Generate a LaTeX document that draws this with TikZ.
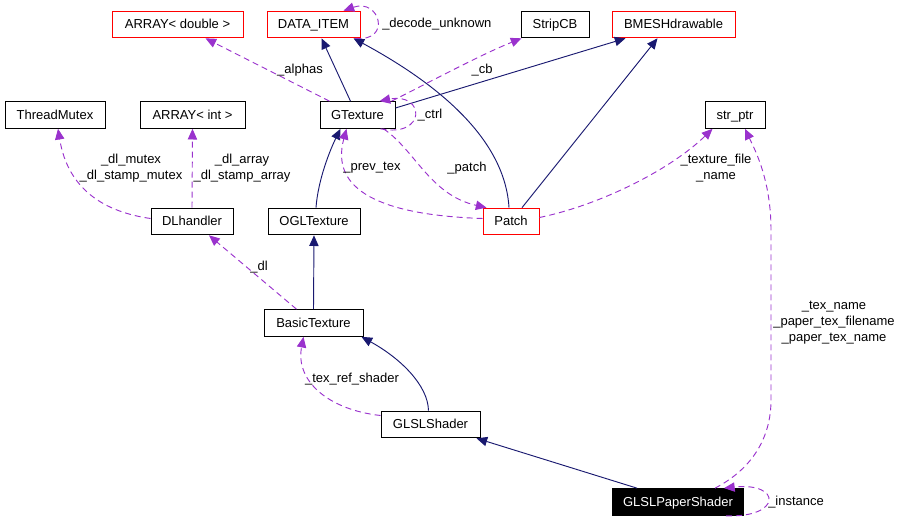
\documentclass[tikz,border=0pt]{standalone}
\usepackage{fontspec}
\setmainfont{Liberation Sans}
\usetikzlibrary{arrows.meta,calc}
\definecolor{edgeblue}{HTML}{191970}
\definecolor{edgepurple}{HTML}{9A32CD}
\begin{document}
\begin{tikzpicture}[x=0.75pt,y=-0.75pt,
  cls/.style={draw=black, line width=0.75pt, inner sep=0pt, minimum height=20pt,
    text height=8.25pt, text depth=1.5pt,
    font=\fontsize{9.75}{11}\selectfont, text=black},
  redcls/.style={cls, draw=red},
  inh/.style={draw=edgeblue, line width=0.7pt,
    -{Triangle[length=8pt,width=7pt,fill=edgeblue]}},
  use/.style={draw=edgepurple, line width=0.7pt, dash pattern=on 4.5pt off 3pt,
    -{Triangle[length=8pt,width=7pt,fill=edgepurple]}},
  lbl/.style={inner sep=0pt, align=center, font=\fontsize{9.75}{12}\selectfont, text=black}]
\useasboundingbox (0,0) rectangle (901,523);
% nodes
\node[redcls, minimum width=98.25pt] (AD) at (177.5,24.5) {ARRAY< double >};
\node[redcls, minimum width=69.75pt] (DI) at (313.5,24.5) {DATA\_ITEM};
\node[cls, minimum width=51pt] (SC) at (555,24.5) {StripCB};
\node[redcls, minimum width=92.25pt] (BM) at (673.5,24.5) {BMESHdrawable};
\node[cls, minimum width=75pt] (TM) at (55,115) {ThreadMutex};
\node[cls, minimum width=78.75pt] (AI) at (192.5,115) {ARRAY< int >};
\node[cls, minimum width=56.25pt] (GT) at (357.5,115) {GTexture};
\node[cls, minimum width=45pt] (SP) at (735,115) {str\_ptr};
\node[cls, minimum width=61.5pt] (DL) at (192,221.5) {DLhandler};
\node[cls, minimum width=69pt] (OG) at (314,221.5) {OGLTexture};
\node[redcls, minimum width=42pt] (PA) at (511,221.5) {Patch};
\node[cls, minimum width=74.25pt] (BT) at (313.5,323) {BasicTexture};
\node[cls, minimum width=74.25pt] (GS) at (430.5,424.5) {GLSLShader};
\node[cls, fill=black, text=white, minimum width=98.25pt] (GP) at (678,502) {GLSLPaperShader};
% inheritance edges
\draw[inh] ($(GT.north)+(-7,0)$) -- ($(DI.south)+(8,0)$);
\draw[inh] ($(PA.north)+(-2,0)$) .. controls (505,140) and (440,85) .. ($(DI.south)+(40,0)$);
\draw[inh] ($(GT.east)+(0,-7)$) -- ($(BM.south)+(-48,0)$);
\draw[inh] ($(PA.north)+(11,0)$) -- ($(BM.south)+(-16,0)$);
\draw[inh] ($(OG.north)+(2,0)$) .. controls (318,180) and (330,150) .. ($(GT.south)+(-17,0)$);
\draw[inh] (BT.north) -- (OG.south);
\draw[inh] ($(GS.north)+(-2,0)$) .. controls (428,385) and (400,358) .. ($(BT.south east)+(-2,0)$);
\draw[inh] ($(GP.north west)+(25,0)$) -- ($(GS.south east)+(-4,0)$);
% usage edges
\draw[use] ($(GT.north west)+(10,0)$) -- ($(AD.south)+(28,0)$);
\node[lbl] (Lalphas) at (300,70) {\_alphas};
\draw[use] ($(DI.south east)+(-5,0)$) .. controls (392,42) and (380,-2) .. ($(DI.north)+(30,0)$);
\node[lbl, anchor=west] (Ldecode) at (382,24) {\_decode\_unknown};
\draw[use] ($(GT.north east)+(-4,0)$) .. controls (430,82) and (480,55) .. ($(SC.south west)+(1,0)$);
\node[lbl] (Lcb) at (482,70) {\_cb};
\draw[use] ($(GT.south east)+(-15,0)$) .. controls (427,138) and (425,92) .. ($(GT.north east)+(-16,0)$);
\node[lbl] (Lctrl) at (430,115) {\_ctrl};
\draw[use] ($(GT.south east)+(-12,0)$) .. controls (415,150) and (430,195) .. ($(PA.north west)+(4,0)$);
\node[lbl] (Lpatch) at (467,168) {\_patch};
\draw[use] ($(PA.west)+(0,-3)$) .. controls (380,215) and (330,190) .. ($(GT.south)+(-11,0)$);
\node[lbl] (Lprev) at (372,168) {\_prev\_tex};
\draw[use] ($(PA.east)+(0,-4)$) .. controls (600,205) and (670,170) .. ($(SP.south west)+(8,0)$);
\node[lbl] (Ltexfile) at (716,168) {\_texture\_file\\\_name};
\draw[use] ($(GP.north)+(37,0)$) .. controls (750,470) and (771,440) .. (771,400) -- (771,230) .. controls (771,180) and (755,150) .. ($(SP.south)+(10,0)$);
\node[lbl] (Ltexname) at (834,323) {\_tex\_name\\\_paper\_tex\_filename\\\_paper\_tex\_name};
\draw[use] ($(GP.south east)+(-18,0)$) .. controls (782,518) and (782,482) .. ($(GP.north east)+(-20,0)$);
\node[lbl, anchor=west] (Linst) at (768,502) {\_instance};
\draw[use] ($(DL.west)+(0,-3)$) .. controls (105,212) and (68,190) .. ($(TM.south)+(3,0)$);
\node[lbl] (Lmutex) at (131,168) {\_dl\_mutex\\\_dl\_stamp\_mutex};
\draw[use] (DL.north) -- (AI.south);
\node[lbl] (Larray) at (242,168) {\_dl\_array\\\_dl\_stamp\_array};
\draw[use] ($(BT.north west)+(33,0)$) -- ($(DL.south)+(17,0)$);
\node[lbl] (Ldl) at (259,267) {\_dl};
\draw[use] ($(GS.west)+(0,-9)$) .. controls (330,410) and (295,382) .. ($(BT.south)+(-10,0)$);
\node[lbl] (Ltexref) at (352,379) {\_tex\_ref\_shader};
\end{tikzpicture}
\end{document}
